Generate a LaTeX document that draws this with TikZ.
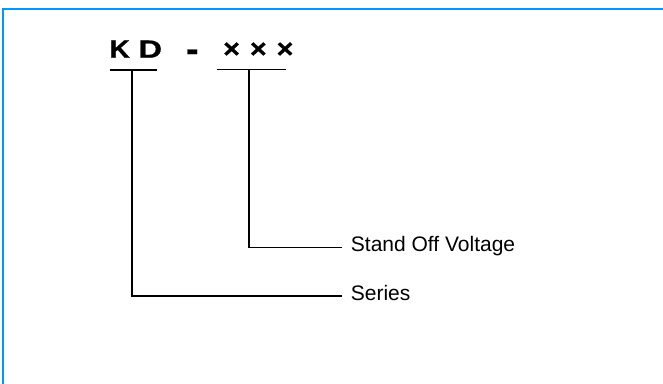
\documentclass[tikz,border=0pt]{standalone}
\usepackage{fontspec}
\setmainfont{Liberation Sans}
\definecolor{frameblue}{RGB}{0,150,255}
\begin{document}
\begin{tikzpicture}[x=1pt,y=-1pt,
  big/.style={font=\fontsize{25}{25}\selectfont\bfseries\addfontfeature{FakeBold=0.8}, inner sep=0pt, anchor=base},
  lbl/.style={font=\fontsize{21}{21}\selectfont, inner sep=0pt, anchor=base west},
  conn/.style={line width=1.6pt, black}]
\useasboundingbox (0,0) rectangle (663,383);
\draw[frameblue, line width=1.8pt] (2.7,384) -- (2.7,8.7) -- (664,8.7);
% code letters
\node[big] (k) at (119.7,57.7) {\scalebox{1.12}[1]{K}};
\node[big] (d) at (150.3,57.7) {\scalebox{1.3}[1]{D}};
\node[big] (dash) at (192.3,61.5) {\scalebox{1.5}[1.5]{-}};
\node[big] (x1) at (231.6,57.7) {\scalebox{1.15}[1.05]{×}};
\node[big] (x2) at (258.3,57.7) {\scalebox{1.15}[1.05]{×}};
\node[big] (x3) at (285,57.7) {\scalebox{1.15}[1.05]{×}};
% underlines
\coordinate (kdl) at (110,70);
\coordinate (kdr) at (156.7,70);
\coordinate (kdm) at (131.7,70);
\coordinate (xl) at (216.7,69.3);
\coordinate (xr) at (286,69.3);
\coordinate (xm) at (248.7,69.3);
\draw[conn] (kdl) -- (kdr);
\draw[conn] (xl) -- (xr);
% label line ends
\coordinate (sv) at (341.7,247.3);
\coordinate (se) at (341.7,295.7);
\node[lbl] (svlab) at ([xshift=9pt,yshift=-4.6pt]sv) {Stand Off Voltage};
\node[lbl] (selab) at ([xshift=9pt,yshift=-4.8pt]se) {Series};
% connectors
\draw[conn] (xm) |- (sv);
\draw[conn] (kdm) |- (se);
\end{tikzpicture}
\end{document}
